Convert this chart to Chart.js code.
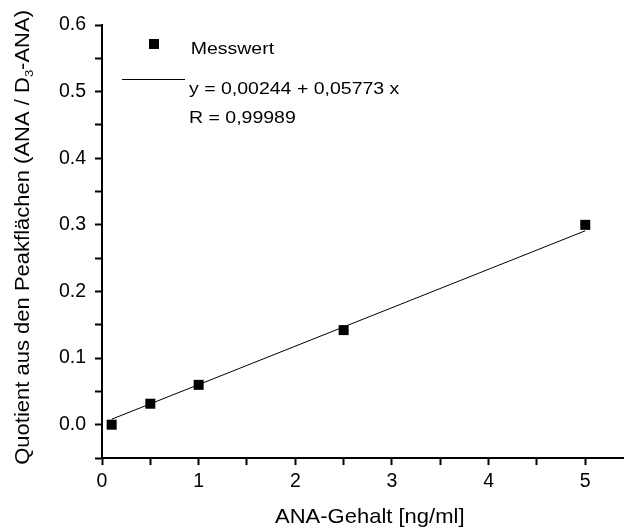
<!DOCTYPE html>
<html>
<head>
<meta charset="utf-8">
<script src="https://cdn.jsdelivr.net/npm/chart.js@4"></script>
<style>
  html, body { margin: 0; padding: 0; background: #fff; }
  #wrap { width: 631px; height: 530px; }
</style>
</head>
<body>
<div id="wrap"><canvas id="c" width="631" height="530"></canvas></div>
<script>
// Calibration data: ANA content vs. peak-area ratio ANA / D3-ANA
const concentrations = [0.1, 0.5, 1, 2.5, 5];
const areaRatios = [0.000, 0.0315, 0.0598, 0.142, 0.300];

// Linear regression result
const fitIntercept = 0.00244;
const fitSlope = 0.05773;
const fitR = 0.99989;
const fitRange = [0.1, 5];

// Axis ticks
const xMajorTicks = [0, 1, 2, 3, 4, 5];
const xMinorTicks = [0.5, 1.5, 2.5, 3.5, 4.5];
const yMajorTicks = [0.0, 0.1, 0.2, 0.3, 0.4, 0.5, 0.6];
const yMinorTicks = [-0.05, 0.05, 0.15, 0.25, 0.35, 0.45, 0.55];
const yTickLabels = ['0.0', '0.1', '0.2', '0.3', '0.4', '0.5', '0.6'];
const xTickLabels = ['0', '1', '2', '3', '4', '5'];

const FONT = 'Liberation Sans, Arial, sans-serif';
const SQUISH = 0.88; // glyphs are slightly flatter than a plain Arial
const deComma = v => String(v).replace('.', ',');

const fitPoints = fitRange.map(x => ({ x: x, y: fitIntercept + fitSlope * x }));

function tickList(major, minor) {
  return major.concat(minor).sort((a, b) => a - b).map(v => ({ value: v }));
}
function labelFor(v, major, labels) {
  const i = major.findIndex(m => Math.abs(m - v) < 1e-9);
  return i >= 0 ? labels[i] : '';
}

function flatText(ctx, text, x, y) {
  ctx.save();
  ctx.translate(x, y);
  ctx.scale(1, SQUISH);
  ctx.fillText(text, 0, 0);
  ctx.restore();
}

// Legend box and axis titles
const annotations = {
  id: 'annotations',
  afterDraw(chart) {
    const ctx = chart.ctx;
    ctx.save();
    ctx.fillStyle = '#000';
    ctx.strokeStyle = '#000';
    ctx.textBaseline = 'alphabetic';
    ctx.textAlign = 'left';

    // legend
    ctx.font = '19.5px ' + FONT;
    ctx.fillRect(149, 39, 10, 10);
    flatText(ctx, 'Messwert', 190.7, 53.5);
    ctx.lineWidth = 1;
    ctx.beginPath();
    ctx.moveTo(122, 79.5);
    ctx.lineTo(185, 79.5);
    ctx.stroke();
    flatText(ctx, 'y = ' + deComma(fitIntercept) + ' + ' + deComma(fitSlope) + ' x', 189, 94);
    flatText(ctx, 'R = ' + deComma(fitR), 189, 123);

    // x title
    ctx.font = '22px ' + FONT;
    flatText(ctx, 'ANA-Gehalt [ng/ml]', 275, 523.3);

    // y title (rotated, with subscript 3)
    const p1 = 'Quotient aus den Peakflächen (ANA / D';
    const p2 = '3';
    const p3 = '-ANA)';
    ctx.font = '22px ' + FONT;
    const w1 = ctx.measureText(p1).width;
    const w3 = ctx.measureText(p3).width;
    ctx.font = '13px ' + FONT;
    const w2 = ctx.measureText(p2).width;
    const total = w1 + w2 + w3;
    ctx.translate(28.5, 10 + total);
    ctx.rotate(-Math.PI / 2);
    ctx.scale(1, SQUISH);
    ctx.font = '22px ' + FONT;
    ctx.fillText(p1, 0, 0);
    ctx.font = '13px ' + FONT;
    ctx.fillText(p2, w1, 5);
    ctx.font = '22px ' + FONT;
    ctx.fillText(p3, w1 + w2, 0);
    ctx.restore();
  }
};

new Chart(document.getElementById('c'), {
  type: 'scatter',
  data: {
    datasets: [
      {
        label: 'Messwert',
        data: concentrations.map((x, i) => ({ x: x, y: areaRatios[i] })),
        pointStyle: 'rect',
        pointRadius: 7.07,
        pointHoverRadius: 7.07,
        backgroundColor: '#000',
        borderColor: '#000',
        borderWidth: 0,
        showLine: false,
        order: 0
      },
      {
        label: 'Fit',
        data: fitPoints,
        showLine: true,
        borderColor: '#000',
        borderWidth: 1,
        pointRadius: 0,
        pointHoverRadius: 0,
        fill: false,
        order: 1
      }
    ]
  },
  options: {
    responsive: false,
    animation: false,
    events: [],
    layout: { padding: { top: 25, right: 0, left: 0, bottom: 0 } },
    plugins: {
      legend: { display: false },
      tooltip: { enabled: false },
      title: { display: false }
    },
    scales: {
      x: {
        type: 'linear',
        min: 0,
        max: 5.4,
        afterBuildTicks: s => { s.ticks = tickList(xMajorTicks, xMinorTicks); },
        afterFit: s => { s.height = 72; },
        ticks: {
          callback: v => labelFor(v, xMajorTicks, xTickLabels),
          autoSkip: false,
          maxRotation: 0,
          padding: 5,
          color: '#000',
          font: { family: FONT, size: 19.5 }
        },
        grid: {
          drawOnChartArea: false,
          drawTicks: true,
          tickLength: 7,
          tickWidth: 2,
          tickColor: '#000'
        },
        border: { display: true, color: '#000', width: 2 }
      },
      y: {
        type: 'linear',
        min: -0.05,
        max: 0.6,
        afterBuildTicks: s => { s.ticks = tickList(yMajorTicks, yMinorTicks); },
        afterFit: s => { s.width = 102; },
        ticks: {
          callback: v => labelFor(v, yMajorTicks, yTickLabels),
          autoSkip: false,
          padding: 9,
          color: '#000',
          font: { family: FONT, size: 19.5 }
        },
        grid: {
          drawOnChartArea: false,
          drawTicks: true,
          tickLength: 7,
          tickWidth: 2,
          tickColor: '#000'
        },
        border: { display: true, color: '#000', width: 2 }
      }
    }
  },
  plugins: [annotations]
});
</script>
</body>
</html>
